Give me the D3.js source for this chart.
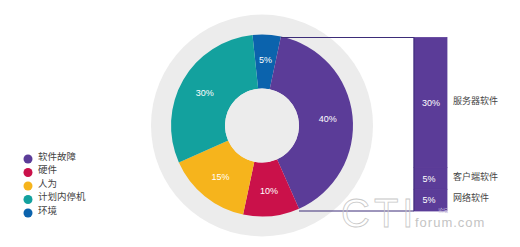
<!DOCTYPE html>
<html>
<head>
<meta charset="utf-8">
<script src="https://cdn.jsdelivr.net/npm/d3@7"></script>
<style>
  html, body { margin: 0; padding: 0; background: #fff; }
  svg { display: block; }
  text { font-family: "Liberation Sans", Arial, "Noto Sans CJK SC", sans-serif; }
</style>
</head>
<body>
<svg id="chart" width="520" height="247"></svg>
<script>
// Downtime causes (share of total, %)
const causes = ["环境", "软件故障", "硬件", "人为", "计划内停机"];
const causeValues = [5, 40, 10, 15, 30];
const causeColors = ["#0b63ad", "#5b3c98", "#ca114a", "#f6b41c", "#13a19e"];

// Legend order
const legendItems = ["软件故障", "硬件", "人为", "计划内停机", "环境"];

// Breakdown of the software-failure share
const softwareParts = ["服务器软件", "客户端软件", "网络软件"];
const softwareValues = [30, 5, 5];

const svg = d3.select("#chart");
const cx = 262, cy = 125.5;
const rOuter = 91, rInner = 37, rBack = 111;

// grey backdrop disc
svg.append("circle").attr("cx", cx).attr("cy", cy).attr("r", rBack).attr("fill", "#ececec");

const startOffset = -6 * Math.PI / 180;
const pie = d3.pie().sort(null).value(d => d.v)
  .startAngle(startOffset).endAngle(startOffset + 2 * Math.PI);
const arcs = pie(causes.map((c, i) => ({ c, v: causeValues[i], color: causeColors[i] })));
const arc = d3.arc().innerRadius(rInner).outerRadius(rOuter);
const labelArc = d3.arc().innerRadius(66).outerRadius(66);

const g = svg.append("g").attr("transform", `translate(${cx},${cy})`);
g.selectAll("path.slice").data(arcs).join("path")
  .attr("class", "slice")
  .attr("d", arc)
  .attr("fill", d => d.data.color);

g.append("circle").attr("r", rInner).attr("fill", "#ececec");

g.selectAll("text.pct").data(arcs).join("text")
  .attr("class", "pct")
  .attr("transform", d => `translate(${labelArc.centroid(d)})`)
  .attr("text-anchor", "middle")
  .attr("dy", "0.35em")
  .attr("fill", "#fff")
  .attr("font-size", 9)
  .text(d => d.data.v + "%");

// Stacked bar for the software breakdown
const barX = 414, barW = 33;
const swTotal = d3.sum(softwareValues);
const y = d3.scaleLinear().domain([0, swTotal]).range([37.5, 211]);
let acc = 0;
const stack = softwareValues.map((v, i) => {
  const s = { name: softwareParts[i], v, y0: acc, y1: acc + v };
  acc += v;
  return s;
});

// connector lines from the software slice to the bar
const sw = arcs.find(d => d.data.c === "软件故障");
const pt = a => [cx + rOuter * Math.sin(a), cy - rOuter * Math.cos(a)];
const pTop = pt(sw.startAngle), pBot = pt(sw.endAngle);
svg.append("line").attr("x1", pTop[0]).attr("y1", y(0)).attr("x2", barX).attr("y2", y(0))
  .attr("stroke", "#3d2d78").attr("stroke-width", 1);
svg.append("line").attr("x1", pBot[0]).attr("y1", y(swTotal)).attr("x2", barX).attr("y2", y(swTotal))
  .attr("stroke", "#3d2d78").attr("stroke-width", 1);

svg.selectAll("rect.seg").data(stack).join("rect")
  .attr("class", "seg")
  .attr("x", barX).attr("width", barW)
  .attr("y", d => y(d.y0)).attr("height", d => y(d.y1) - y(d.y0))
  .attr("fill", "#5b3c98")
  .attr("stroke", "#5b3c98").attr("stroke-width", 0.8);
svg.append("line").attr("x1", barX).attr("x2", barX).attr("y1", y(0)).attr("y2", y(swTotal))
  .attr("stroke", "#3d2d78").attr("stroke-width", 1);

// watermark
svg.append("text").attr("x", 341).attr("y", 227)
  .attr("font-family", "'Liberation Serif', serif").attr("font-size", 40)
  .attr("fill", "none").attr("stroke", "#c8c8c8").attr("stroke-width", 0.8)
  .attr("letter-spacing", 4).text("CTI");
svg.append("text").attr("x", 438).attr("y", 212)
  .attr("font-size", 5).attr("fill", "#cfc6e2").text("论坛");
svg.append("text").attr("x", 415).attr("y", 227)
  .attr("font-size", 13).attr("fill", "#c4c4c4").attr("letter-spacing", 1).text("forum.com");

svg.selectAll("text.segval").data(stack).join("text")
  .attr("class", "segval")
  .attr("x", d => barX + barW / 2 + (d.v === 30 ? 0.5 : -1.5))
  .attr("y", d => (y(d.y0) + y(d.y1)) / 2)
  .attr("dy", "0.35em")
  .attr("text-anchor", "middle")
  .attr("fill", "#fff").attr("font-size", 9)
  .text(d => d.v + "%");

svg.selectAll("text.segname").data(stack).join("text")
  .attr("class", "segname")
  .attr("x", 453)
  .attr("y", d => (y(d.y0) + y(d.y1)) / 2 - 2)
  .attr("dy", "0.35em")
  .attr("fill", "#444").attr("font-size", 9)
  .text(d => d.name);

// Legend
const colorOf = d3.scaleOrdinal().domain(causes).range(causeColors);
const leg = svg.append("g").selectAll("g").data(legendItems).join("g")
  .attr("transform", (d, i) => `translate(28,${159 + i * 13.5})`);
leg.append("circle").attr("r", 4.5).attr("fill", d => colorOf(d));
leg.append("text").attr("x", 10).attr("dy", "0.1em")
  .attr("fill", "#444").attr("font-size", 9.5).text(d => d);
</script>
</body>
</html>
